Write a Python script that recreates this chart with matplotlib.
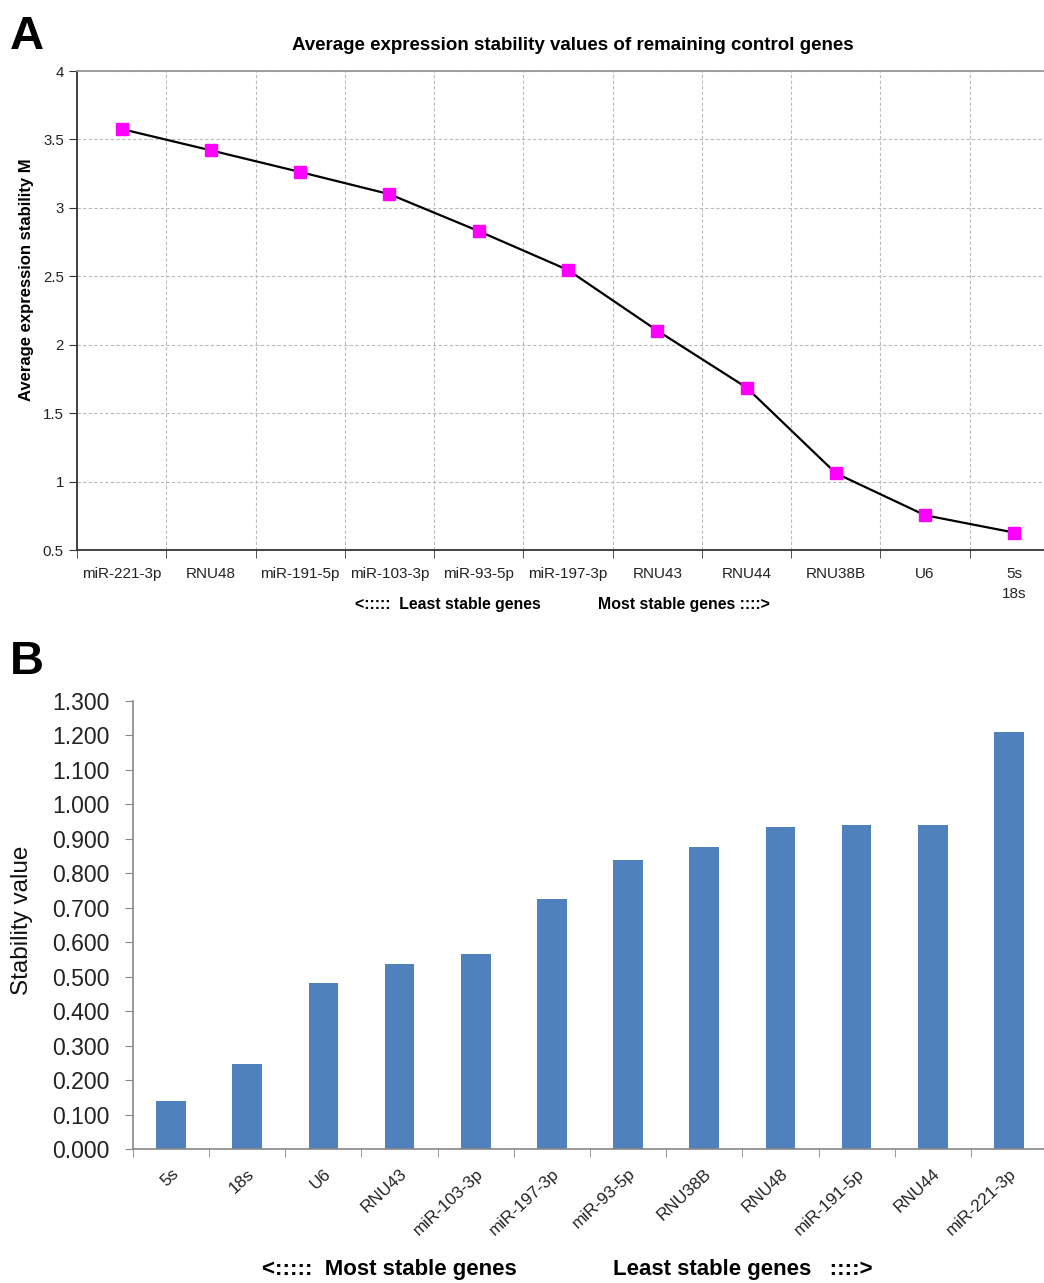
import numpy as np
import matplotlib.pyplot as plt

plt.rcParams['font.family'] = ['Liberation Sans', 'DejaVu Sans']

# panel A: geNorm average expression stability M
genes_a = ['miR-221-3p', 'RNU48', 'miR-191-5p', 'miR-103-3p', 'miR-93-5p',
           'miR-197-3p', 'RNU43', 'RNU44', 'RNU38B', 'U6', '5s\n18s']
m_values = [3.576, 3.42, 3.262, 3.10, 2.83, 2.546, 2.103, 1.687, 1.061, 0.754, 0.627]

# panel B: NormFinder stability value
genes_b = ['5s', '18s', 'U6', 'RNU43', 'miR-103-3p', 'miR-197-3p', 'miR-93-5p',
           'RNU38B', 'RNU48', 'miR-191-5p', 'RNU44', 'miR-221-3p']
stability = [0.141, 0.246, 0.481, 0.538, 0.566, 0.725, 0.839, 0.877,
             0.934, 0.939, 0.939, 1.210]

W, H = 1044, 1283
fig = plt.figure(figsize=(W / 100, H / 100), dpi=100)

# ---- A ----
ax1 = fig.add_axes([77 / W, 1 - 550 / H, (1059 - 77) / W, (550 - 71) / H])
xa = np.arange(len(genes_a))
ax1.plot(xa, m_values, color='black', lw=1.6, marker='s', ms=8.5,
         mfc='#ff00ff', mec='#ff00ff', zorder=3)
ax1.set_xlim(-0.5, len(genes_a) - 0.5)
ax1.set_ylim(0.5, 4)
ax1.set_yticks(np.arange(0.5, 4.01, 0.5))
ax1.set_yticklabels(['0.5', '1', '1.5', '2', '2.5', '3', '3.5', '4'])
ax1.set_xticks(xa)
ax1.set_xticklabels(genes_a, fontsize=11, va='top', linespacing=1.6)
ax1.set_xticks(np.arange(-0.5, len(genes_a), 1), minor=True)
ax1.tick_params(axis='x', which='major', length=0, pad=12, colors='#222222')
ax1.tick_params(axis='x', which='minor', length=6, color='#333333')
ax1.tick_params(axis='y', length=6, labelsize=10.8, colors='#222222', color='#333333')
ax1.grid(True, which='minor', axis='x', ls=(0, (3, 2)), color='#bbbbbb', lw=0.8)
ax1.grid(True, which='major', axis='y', ls=(0, (3, 2)), color='#bbbbbb', lw=0.8)
ax1.set_axisbelow(True)
for s in ['left', 'bottom']:
    ax1.spines[s].set_color('#333333')
    ax1.spines[s].set_linewidth(1.3)
ax1.spines['top'].set_color('#999999')
ax1.spines['top'].set_linewidth(1.3)
ax1.spines['right'].set_visible(False)

fig.text(573 / W, 1 - 45 / H, 'Average expression stability values of remaining control genes',
         ha='center', va='center', fontsize=13.5, fontweight='bold')
fig.text(27 / W, 1 - 280 / H, 'Average expression stability M', rotation=90,
         ha='center', va='center', fontsize=12, fontweight='bold')
fig.text(448 / W, 1 - 604 / H, '<:::::  Least stable genes', ha='center', va='center',
         fontsize=11.4, fontweight='bold')
fig.text(684 / W, 1 - 604 / H, 'Most stable genes ::::>', ha='center', va='center',
         fontsize=11.4, fontweight='bold')

# ---- B ----
ax2 = fig.add_axes([133 / W, 1 - 1149.3 / H, (1047 - 133) / W, (1149.3 - 700.7) / H])
xb = np.arange(len(genes_b))
ax2.bar(xb, stability, width=0.39, color='#4f81bd')
ax2.set_xlim(-0.5, len(genes_b) - 0.5)
ax2.set_ylim(0, 1.3)
ax2.set_yticks(np.arange(0, 1.301, 0.1))
ax2.set_yticklabels([f'{v:.3f}' for v in np.arange(0, 1.301, 0.1)])
ax2.set_xticks(xb)
ax2.set_xticklabels(genes_b, rotation=43, ha='right', rotation_mode='anchor',
                    fontsize=12.3, color='#222222')
ax2.set_xticks(np.arange(-0.5, len(genes_b), 1), minor=True)
ax2.tick_params(axis='x', which='major', length=0, pad=12)
ax2.tick_params(axis='x', which='minor', length=6, color='#888888')
ax2.tick_params(axis='y', length=6, pad=11, labelsize=16.6, colors='#222222', color='#888888')
for s in ['left', 'bottom']:
    ax2.spines[s].set_color('#888888')
    ax2.spines[s].set_linewidth(1.2)
for s in ['top', 'right']:
    ax2.spines[s].set_visible(False)

fig.text(22 / W, 1 - 920 / H, 'Stability value', rotation=90, ha='center', va='center',
         fontsize=17.5, color='#111111')
fig.text(389 / W, 1 - 1270 / H, '<:::::  Most stable genes', ha='center', va='center',
         fontsize=16, fontweight='bold')
fig.text(743 / W, 1 - 1270 / H, 'Least stable genes   ::::>', ha='center', va='center',
         fontsize=16, fontweight='bold')

# panel letters
fig.text(10 / W, 1 - 37 / H, 'A', ha='left', va='center', fontsize=34, fontweight='bold')
fig.text(10 / W, 1 - 662 / H, 'B', ha='left', va='center', fontsize=34, fontweight='bold')

fig.savefig('out.png', dpi=100)
